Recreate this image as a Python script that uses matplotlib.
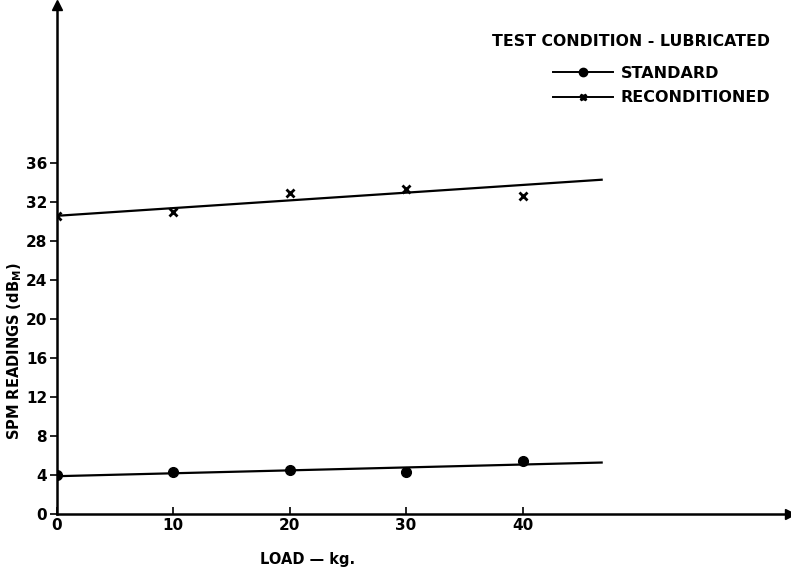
#!/usr/bin/env python

import numpy as np
import matplotlib
matplotlib.use("Agg")
import matplotlib.pyplot as plt

# measured points (load in kg, SPM reading in dBm)
load = [0, 10, 20, 30, 40]
standard = [4.0, 4.3, 4.5, 4.3, 5.5]
reconditioned = [30.6, 31.0, 32.9, 33.3, 32.6]

# straight lines drawn through the points (end points)
fit_load = [0, 46.8]
standard_fit = [3.9, 5.3]
reconditioned_fit = [30.6, 34.3]

yticks = [0, 4, 8, 12, 16, 20, 24, 28, 32, 36]
xticks = [0, 10, 20, 30, 40]

plt.rcParams['font.family'] = ['DejaVu Sans']
plt.rcParams['font.weight'] = 'bold'
plt.rcParams['axes.labelweight'] = 'bold'

fig = plt.figure(figsize=(7.91, 5.72), dpi=100)
ax = fig.add_axes([0.072, 0.101, 0.927, 0.89])

# fitted lines
ax.plot(fit_load, standard_fit, color='black', lw=1.6, zorder=2)
ax.plot(fit_load, reconditioned_fit, color='black', lw=1.6, zorder=2)

# data points
ax.plot(load, standard, 'o', color='black', ms=7, zorder=3)
ax.plot(load, reconditioned, 'x', color='black', ms=6, mew=2, zorder=3)

# legend entries (line through marker)
h1, = ax.plot([], [], '-o', color='black', lw=1.4, ms=6)
h2, = ax.plot([], [], '-X', color='black', lw=1.4, ms=5)
leg = ax.legend([h1, h2], ['STANDARD', 'RECONDITIONED'],
                title='TEST CONDITION - LUBRICATED', frameon=False,
                loc='upper right', bbox_to_anchor=(0.973, 0.943),
                borderaxespad=0, borderpad=0,
                handlelength=3.75, handletextpad=0.5, labelspacing=0.6,
                fontsize=11.5, title_fontsize=11.3)
leg.get_title().set_fontweight('bold')
leg._legend_box.align = 'right'
leg._legend_box.sep = 12

ax.set_xlim(0, 63)
ax.set_ylim(0, 52.2)
ax.set_xticks(xticks)
ax.set_yticks(yticks)
ax.tick_params(axis='x', direction='in', length=5, width=1.2, labelsize=11, pad=3)
ax.tick_params(axis='y', direction='out', length=5, width=1.2, labelsize=11, pad=2)

for s in ['top', 'right']:
    ax.spines[s].set_visible(False)
for s in ['left', 'bottom']:
    ax.spines[s].set_linewidth(1.8)

# axis arrows
ax.plot(1, 0, '>k', ms=7, transform=ax.get_yaxis_transform(), clip_on=False)
ax.plot(0, 1, '^k', ms=7, transform=ax.get_xaxis_transform(), clip_on=False)

ax.set_ylabel('SPM READINGS (dB$_\\mathbf{M}$)', fontsize=10.5)
ax.set_xlabel('LOAD \u2014 kg.', fontsize=10.5)
ax.xaxis.set_label_coords(0.342, -0.075)
ax.yaxis.set_label_coords(-0.045, 0.32)

fig.savefig('out.png', dpi=100)
